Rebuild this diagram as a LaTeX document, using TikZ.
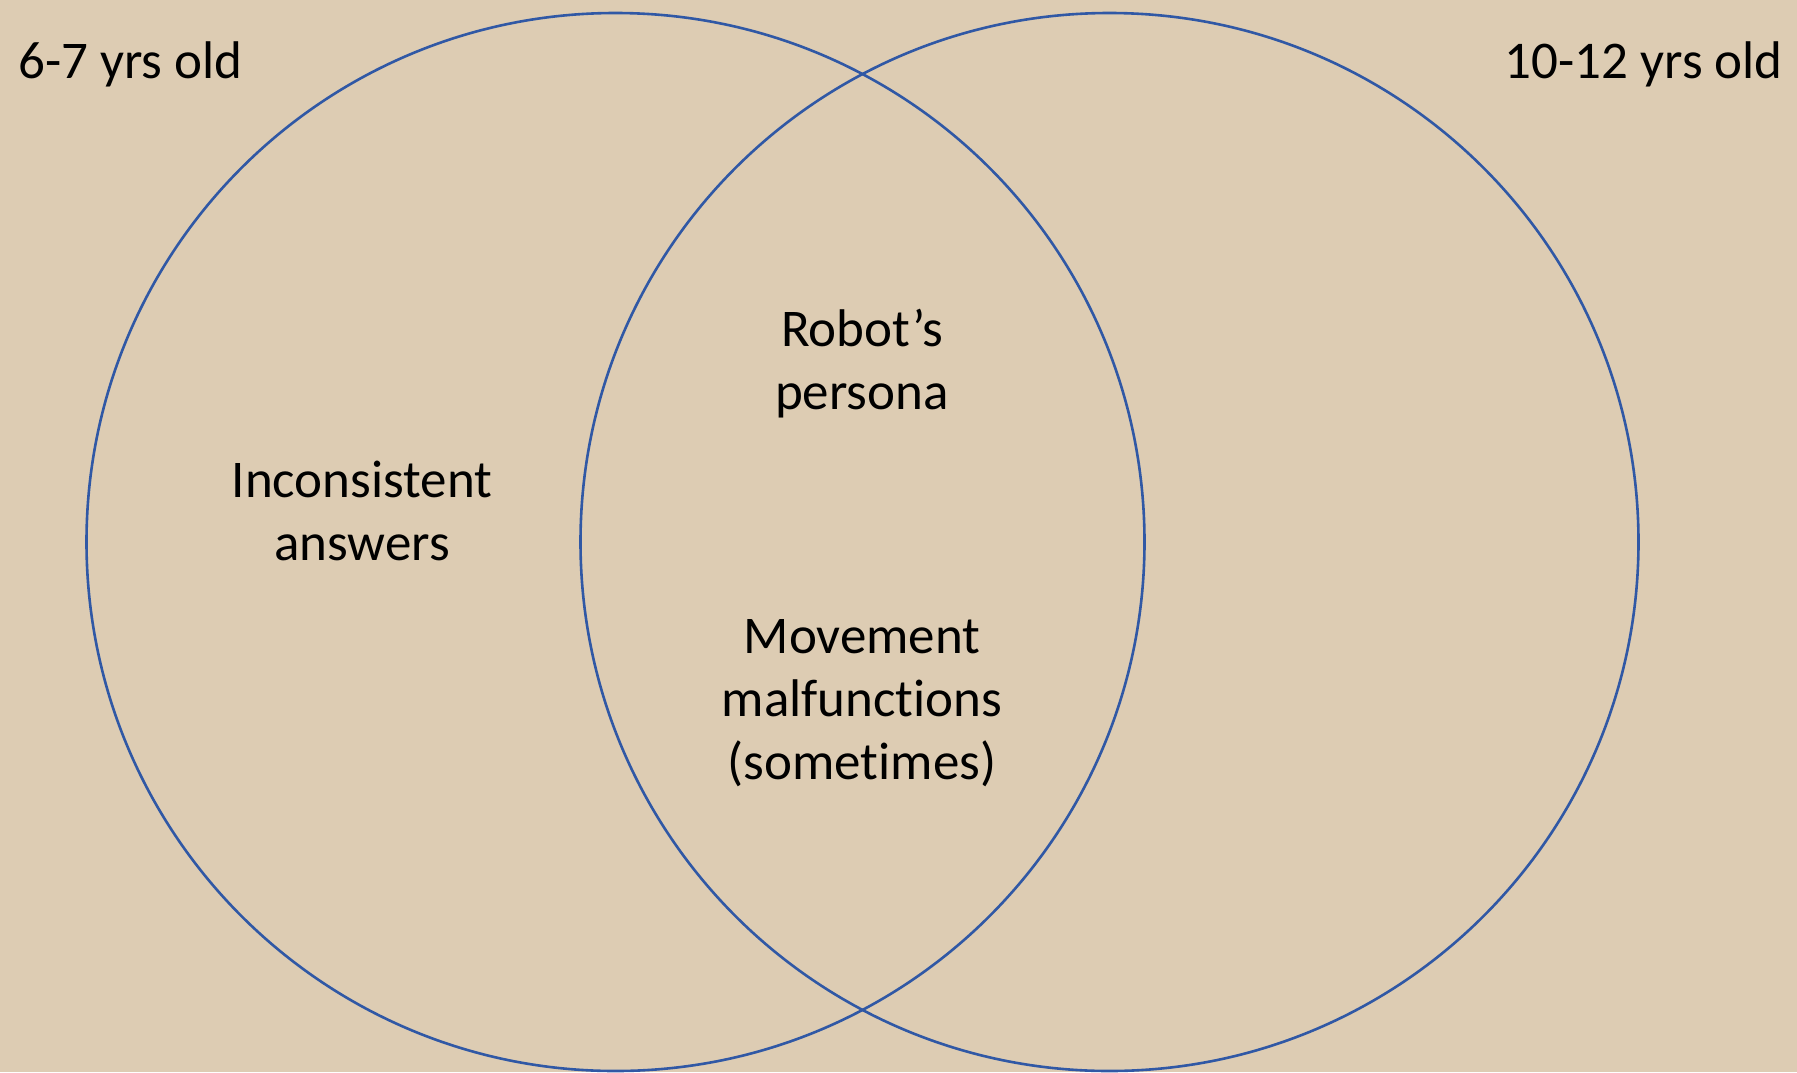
\documentclass[tikz,border=0pt]{standalone}
\usepackage{fontspec}
\setmainfont{Carlito}[Ligatures={NoCommon,NoContextual},Contextuals={NoAlternate}]
\definecolor{paper}{RGB}{221,204,179}
\definecolor{ring}{RGB}{48,88,165}
\begin{document}
\begin{tikzpicture}[x=1pt,y=-1pt,
        venn/.style={circle,draw=ring,line width=2.6pt,minimum size=1058pt,inner sep=0pt},
        lbl/.style={inner sep=0pt,align=center,font=\fontsize{53}{63}\selectfont}]
    \fill [paper] (0,0) rectangle (1797,1072);
    \useasboundingbox (0,0) rectangle (1797,1072);
    % the two age groups
    \node [venn] (young) at (615.5,542) {};
    \node [venn] (old) at (1109.5,542) {};
    \node [lbl,anchor=base west] (younglbl) at (18,78) {6-7 yrs old};
    \node [lbl,anchor=base east] (oldlbl) at (1783,78) {10-12 yrs old};
    % what goes where (base = last line)
    \node [lbl,anchor=base] (answers) at (362,560) {Inconsistent\\answers};
    \node [lbl,anchor=base] (persona) at (862,409) {Robot’s\\persona};
    \node [lbl,anchor=base] (movement) at (862,779) {Movement\\malfunctions\\(sometimes)};
\end{tikzpicture}
\end{document}
